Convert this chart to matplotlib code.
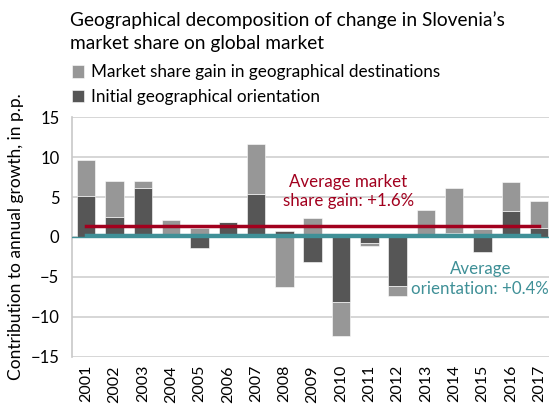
import numpy as np
import matplotlib.pyplot as plt

plt.rcParams['font.family'] = ['Lato', 'DejaVu Sans']

years = [str(y) for y in range(2001, 2018)]
# market share gain in geographical destinations
gain = [4.5, 4.5, 0.85, 2.1, 1.1, 0.0, 6.3, -6.3, 2.4, -4.2, -0.4, -1.3, 3.4, 5.6, 1.0, 3.6, 3.4]
# initial geographical orientation
orient = [5.1, 2.55, 6.2, 0.0, -1.4, 1.9, 5.4, 0.8, -3.1, -8.2, -0.7, -6.1, 0.0, 0.5, -1.9, 3.3, 1.1]
avg_gain = 1.4
avg_orient = 0.25

c_light = '#979797'
c_dark = '#565656'
c_red = '#A2001E'
c_teal = '#3F9097'

fig = plt.figure(figsize=(5.49, 4.05), dpi=100)
ax = fig.add_axes([0.1311, 0.1193, 0.8689 + 0.008, 0.5911])

x = np.arange(len(years))
orient = np.array(orient)
gain = np.array(gain)

# excel style stacking: positives and negatives stack separately
pos_base = np.zeros(len(x))
neg_base = np.zeros(len(x))
bottoms = []
for vals in (orient, gain):
    b = np.where(vals >= 0, pos_base, neg_base)
    bottoms.append(b)
    pos_base = pos_base + np.where(vals >= 0, vals, 0)
    neg_base = neg_base + np.where(vals < 0, vals, 0)

ax.bar(x, orient, 0.65, bottom=bottoms[0], color=c_dark, edgecolor='white', linewidth=0.4,
       label='Initial geographical orientation', zorder=2)
ax.bar(x, gain, 0.65, bottom=bottoms[1], color=c_light, edgecolor='white', linewidth=0.4,
       label='Market share gain in geographical destinations', zorder=2)

ax.axhline(0, color=c_teal, lw=1, zorder=3)
ax.plot([x[0], x[-1]], [avg_gain, avg_gain], color=c_red, lw=2.5, zorder=4)
ax.plot([x[0], x[-1]], [avg_orient, avg_orient], color=c_teal, lw=2.5, zorder=4)

ax.text(9.26, 5.7, 'Average market\nshare gain: +1.6%', color=c_red, fontsize=12.2,
        ha='center', va='center', linespacing=1.3)
ax.text(13.92, -5.25, 'Average\norientation: +0.4%', color=c_teal, fontsize=12.2,
        ha='center', va='center', linespacing=1.3)

ax.set_xlim(-0.5, 16.5)
ax.set_ylim(-15, 15)
ax.set_yticks(range(-15, 16, 5))
ax.set_xticks(x)
ax.set_xticklabels(years, rotation=90, fontsize=11.5)
ax.tick_params(axis='y', labelsize=12, length=0, pad=9)
ax.tick_params(axis='x', length=0, pad=6)
ax.grid(axis='y', color='#d0d0d0', lw=1.2, zorder=0)
ax.set_axisbelow(True)
for s in ['top', 'right', 'bottom']:
    ax.spines[s].set_visible(False)
ax.spines['left'].set_color('#c8c8c8')
ax.spines['left'].set_linewidth(1.2)

ax.set_ylabel('Contribution to annual growth, in p.p.', fontsize=12.5, labelpad=5)

fig.text(0.1275, 0.972, 'Geographical decomposition of change in Slovenia\u2019s\nmarket share on global market',
         fontsize=13.8, va='top', ha='left', linespacing=1.4)

h, l = ax.get_legend_handles_labels()
fig.legend(h[::-1], l[::-1], loc='upper left', bbox_to_anchor=(0.118, 0.858), frameon=False,
           fontsize=12.3, handlelength=0.75, handleheight=0.75, handletextpad=0.4,
           labelspacing=0.5, borderaxespad=0)

fig.savefig('out.png', dpi=100)
